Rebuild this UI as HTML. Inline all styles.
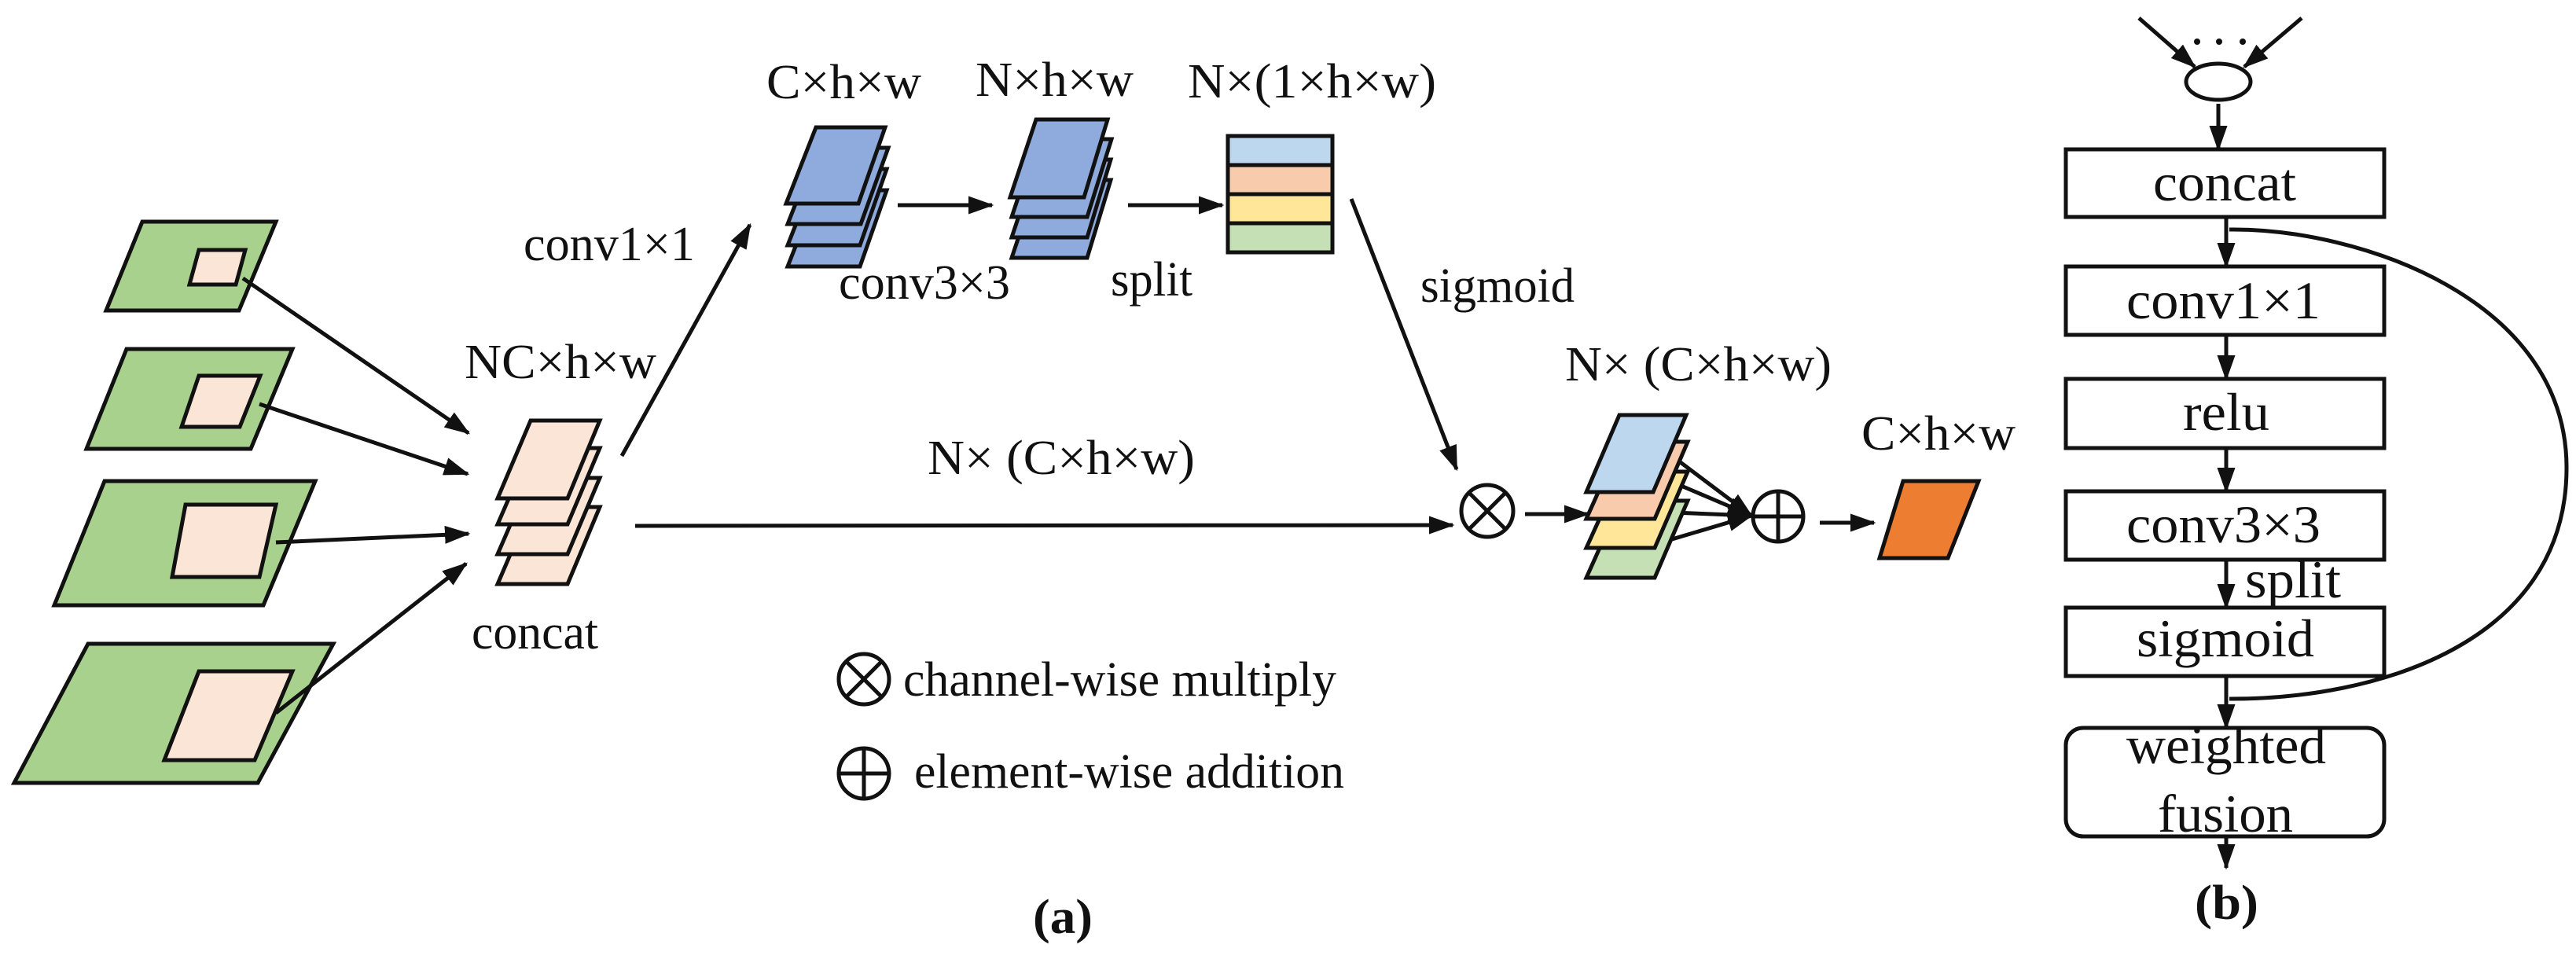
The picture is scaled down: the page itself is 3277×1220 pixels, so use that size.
<!DOCTYPE html>
<html><head><meta charset="utf-8"><style>html,body{margin:0;padding:0;background:#fff}svg{display:block}</style></head>
<body>
<svg width="3277" height="1220" viewBox="0 0 3277 1220" xmlns="http://www.w3.org/2000/svg" font-family="'Liberation Serif', serif" fill="#111">
<defs>
<marker id="ah" markerWidth="6.5" markerHeight="4.6" refX="6" refY="2.3" orient="auto" markerUnits="strokeWidth"><path d="M0,0 L6.5,2.3 L0,4.6 z" fill="#111"/></marker>
</defs>
<g stroke="#111" stroke-width="5" stroke-linejoin="miter">
<polygon points="181,282 351,282 304,395 135,395" fill="#a9d18e"/>
<polygon points="253,318 312,318 300,362 241,362" fill="#fbe5d6"/>
<polygon points="161,444 372,444 319,571 110,571" fill="#a9d18e"/>
<polygon points="253,478 331,478 305,543 231,543" fill="#fbe5d6"/>
<polygon points="133,612 401,612 335,770 69,770" fill="#a9d18e"/>
<polygon points="236,642 351,642 330,734 219,734" fill="#fbe5d6"/>
<polygon points="112,819 424,819 328,996 18,996" fill="#a9d18e"/>
<polygon points="253,854 372,854 324,967 209,967" fill="#fbe5d6"/>
</g>
<g stroke="#111" stroke-width="5" fill="none" marker-end="url(#ah)">
<line x1="309" y1="354" x2="596" y2="551"/>
<line x1="330" y1="514" x2="595" y2="603"/>
<line x1="351" y1="690" x2="596" y2="679"/>
<line x1="351" y1="907" x2="593" y2="717"/>
<line x1="791" y1="580" x2="954" y2="286"/>
<line x1="808" y1="669" x2="1848" y2="668"/>
<line x1="1142" y1="261" x2="1262" y2="261"/>
<line x1="1435" y1="261" x2="1555" y2="261"/>
<line x1="1719" y1="253" x2="1853" y2="597"/>
<line x1="1940" y1="654" x2="2020" y2="654"/>
<line x1="2315" y1="665" x2="2384" y2="665"/>
<line x1="2127" y1="580" x2="2228" y2="656"/>
<line x1="2127" y1="613" x2="2228" y2="656"/>
<line x1="2128" y1="652" x2="2228" y2="656"/>
<line x1="2127" y1="686" x2="2228" y2="656"/>
</g>
<g stroke="#111" stroke-width="5">
<polygon points="675,645 763,645 722,743 633,743" fill="#fbe5d6"/>
<polygon points="675,608 763,608 722,705 633,705" fill="#fbe5d6"/>
<polygon points="675,570 763,570 722,667 633,667" fill="#fbe5d6"/>
<polygon points="675,535 763,535 722,634 633,634" fill="#fbe5d6"/>
<polygon points="1040,242 1128,242 1094,339 1002,339" fill="#8faadc"/>
<polygon points="1040,215 1128,215 1094,312 1002,312" fill="#8faadc"/>
<polygon points="1040,188 1130,188 1095,285 1002,285" fill="#8faadc"/>
<polygon points="1038,162 1126,162 1092,259 1000,259" fill="#8faadc"/>
<polygon points="1320,229 1413,229 1383,328 1287,328" fill="#8faadc"/>
<polygon points="1320,203 1413,203 1383,302 1287,302" fill="#8faadc"/>
<polygon points="1320,177 1414,177 1383,276 1287,276" fill="#8faadc"/>
<polygon points="1318,152 1409,152 1379,251 1285,251" fill="#8faadc"/>
<rect x="1562" y="173" width="133" height="37" fill="#bdd7ee"/>
<rect x="1562" y="210" width="133" height="37" fill="#f8cbad"/>
<rect x="1562" y="247" width="133" height="37" fill="#ffe699"/>
<rect x="1562" y="284" width="133" height="37" fill="#c5e0b4"/>
<polygon points="2062,637 2147,637 2105,735 2018,735" fill="#c5e0b4"/>
<polygon points="2062,600 2147,600 2105,697 2018,697" fill="#ffe699"/>
<polygon points="2062,562 2147,562 2105,660 2018,660" fill="#f8cbad"/>
<polygon points="2060,528 2145,528 2103,626 2018,626" fill="#bdd7ee"/>
<polygon points="2421,612 2517,612 2478,710 2391,710" fill="#ed7d31"/>
<g fill="#fff">
<circle cx="1892" cy="650" r="33"/>
<circle cx="2262" cy="657" r="32"/>
<circle cx="1099" cy="864" r="32"/>
<circle cx="1099" cy="984" r="32"/>
</g>
<line x1="1869" y1="627" x2="1915" y2="673"/><line x1="1915" y1="627" x2="1869" y2="673"/>
<line x1="1076" y1="841" x2="1122" y2="887"/><line x1="1122" y1="841" x2="1076" y2="887"/>
<line x1="2230" y1="657" x2="2294" y2="657"/><line x1="2262" y1="625" x2="2262" y2="689"/>
<line x1="1067" y1="984" x2="1131" y2="984"/><line x1="1099" y1="952" x2="1099" y2="1016"/>
</g>
<g stroke="#111" stroke-width="5" fill="#fff">
<ellipse cx="2822" cy="104" rx="41" ry="23"/>
<rect x="2628" y="190" width="405" height="86"/>
<rect x="2628" y="339" width="405" height="87"/>
<rect x="2628" y="482" width="405" height="88"/>
<rect x="2628" y="625" width="405" height="87"/>
<rect x="2628" y="773" width="405" height="87"/>
<rect x="2628" y="926" width="405" height="138" rx="22"/>
</g>
<g fill="#111"><circle cx="2795" cy="53" r="4"/><circle cx="2823" cy="53" r="4"/><circle cx="2853" cy="53" r="4"/></g>
<g stroke="#111" stroke-width="5" fill="none" marker-end="url(#ah)">
<line x1="2721" y1="23" x2="2792" y2="85"/>
<line x1="2928" y1="23" x2="2855" y2="85"/>
<line x1="2822" y1="132" x2="2822" y2="190"/>
<line x1="2832" y1="276" x2="2832" y2="339"/>
<line x1="2832" y1="426" x2="2832" y2="482"/>
<line x1="2832" y1="570" x2="2832" y2="625"/>
<line x1="2832" y1="712" x2="2832" y2="773"/>
<line x1="2832" y1="860" x2="2832" y2="926"/>
<line x1="2832" y1="1064" x2="2832" y2="1104"/>
</g>
<path d="M2836,292 C3000,290 3265,380 3265,595 C3265,820 3020,890 2836,889" stroke="#111" stroke-width="5" fill="none"/>
<g font-size="62">
<text x="975" y="125" textLength="197" lengthAdjust="spacingAndGlyphs">C×h×w</text>
<text x="1241" y="122" textLength="201" lengthAdjust="spacingAndGlyphs">N×h×w</text>
<text x="1511" y="124" textLength="316" lengthAdjust="spacingAndGlyphs">N×(1×h×w)</text>
<text x="666" y="331" textLength="218" lengthAdjust="spacingAndGlyphs">conv1×1</text>
<text x="591" y="481" textLength="244" lengthAdjust="spacingAndGlyphs">NC×h×w</text>
<text x="600" y="825" textLength="161" lengthAdjust="spacingAndGlyphs">concat</text>
<text x="1067" y="380" textLength="218" lengthAdjust="spacingAndGlyphs">conv3×3</text>
<text x="1413" y="376" textLength="104" lengthAdjust="spacingAndGlyphs">split</text>
<text x="1807" y="384" textLength="196" lengthAdjust="spacingAndGlyphs">sigmoid</text>
<text x="1180" y="603" textLength="340" lengthAdjust="spacingAndGlyphs">N× (C×h×w)</text>
<text x="1991" y="484" textLength="339" lengthAdjust="spacingAndGlyphs">N× (C×h×w)</text>
<text x="2368" y="572" textLength="196" lengthAdjust="spacingAndGlyphs">C×h×w</text>
<text x="1149" y="885" textLength="551" lengthAdjust="spacingAndGlyphs">channel-wise multiply</text>
<text x="1163" y="1002" textLength="547" lengthAdjust="spacingAndGlyphs">element-wise addition</text>
<text x="1314" y="1187" font-weight="bold" textLength="76" lengthAdjust="spacingAndGlyphs">(a)</text>
<text x="2792" y="1169" font-weight="bold" textLength="81" lengthAdjust="spacingAndGlyphs">(b)</text>
</g>
<g font-size="68">
<text x="2739" y="255" textLength="182" lengthAdjust="spacingAndGlyphs">concat</text>
<text x="2705" y="405" textLength="247" lengthAdjust="spacingAndGlyphs">conv1×1</text>
<text x="2777" y="547" textLength="110" lengthAdjust="spacingAndGlyphs">relu</text>
<text x="2705" y="690" textLength="247" lengthAdjust="spacingAndGlyphs">conv3×3</text>
<text x="2856" y="760" textLength="122" lengthAdjust="spacingAndGlyphs">split</text>
<text x="2718" y="835" textLength="226" lengthAdjust="spacingAndGlyphs">sigmoid</text>
<text x="2705" y="971" textLength="254" lengthAdjust="spacingAndGlyphs">weighted</text>
<text x="2745" y="1058" textLength="172" lengthAdjust="spacingAndGlyphs">fusion</text>
</g>
</svg>
</body></html>
